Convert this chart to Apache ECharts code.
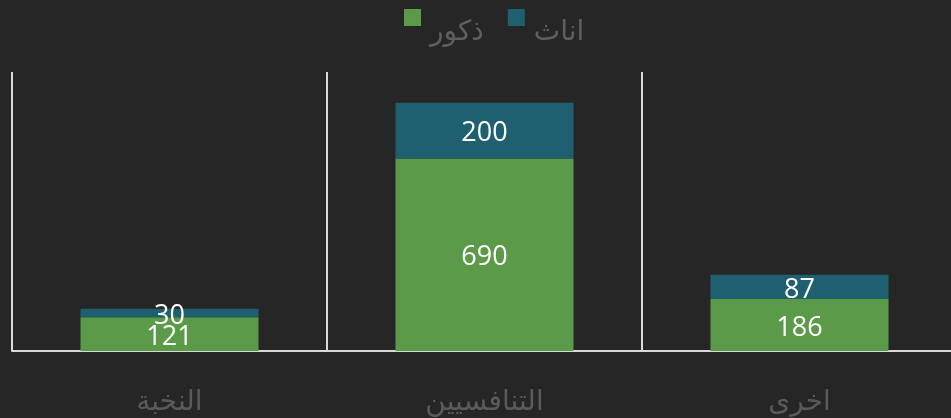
<!DOCTYPE html>
<html>
<head>
<meta charset="utf-8">
<script src="https://cdn.jsdelivr.net/npm/echarts@6/dist/echarts.min.js"></script>
<style>
  html, body { margin: 0; padding: 0; background: #262626; }
  #chart { width: 951px; height: 418px; }
</style>
</head>
<body>
<div id="chart"></div>
<script>
// categories, left to right as drawn
const categories = ['النخبة', 'التنافسيين', 'اخرى'];
// male (bottom, green) and female (top, teal) counts
const males = [121, 690, 186];
const females = [30, 200, 87];

const chart = echarts.init(document.getElementById('chart'));

const labelStyle = {
  show: true,
  position: 'inside',
  offset: [0, 3],
  color: '#ffffff',
  fontSize: 27,
  fontFamily: 'Open Sans'
};

chart.setOption({
  backgroundColor: '#262626',
  animation: false,
  legend: {
    top: 4,
    left: 399,
    itemWidth: 17,
    itemHeight: 17,
    itemGap: 24,
    icon: 'rect',
    formatter: '{t|{name}}',
    textStyle: {
      rich: {
        t: {
          color: '#5f5f5f',
          fontSize: 28,
          fontFamily: 'DejaVu Sans',
          padding: [30, 0, 0, 4]
        }
      }
    },
    data: ['ذكور', 'اناث']
  },
  grid: { left: 12, right: -6, top: 72, bottom: 67, outerBoundsMode: 'none' },
  xAxis: {
    type: 'category',
    data: categories,
    axisLine: { show: true, lineStyle: { color: '#d9d9d9', width: 2 } },
    axisTick: { show: false },
    splitLine: { show: true, lineStyle: { color: '#d9d9d9', width: 2 } },
    axisLabel: {
      color: '#5a5a5a',
      fontSize: 28,
      fontFamily: 'DejaVu Sans',
      margin: 38
    }
  },
  yAxis: {
    type: 'value',
    min: 0,
    max: 1000,
    show: false,
    splitLine: { show: false }
  },
  series: [
    {
      name: 'ذكور',
      type: 'bar',
      stack: 'total',
      barWidth: 178,
      data: males,
      itemStyle: { color: '#5b9a48' },
      label: labelStyle
    },
    {
      name: 'اناث',
      type: 'bar',
      stack: 'total',
      barWidth: 178,
      data: females,
      itemStyle: { color: '#1f6070' },
      label: labelStyle
    }
  ]
});
</script>
</body>
</html>
